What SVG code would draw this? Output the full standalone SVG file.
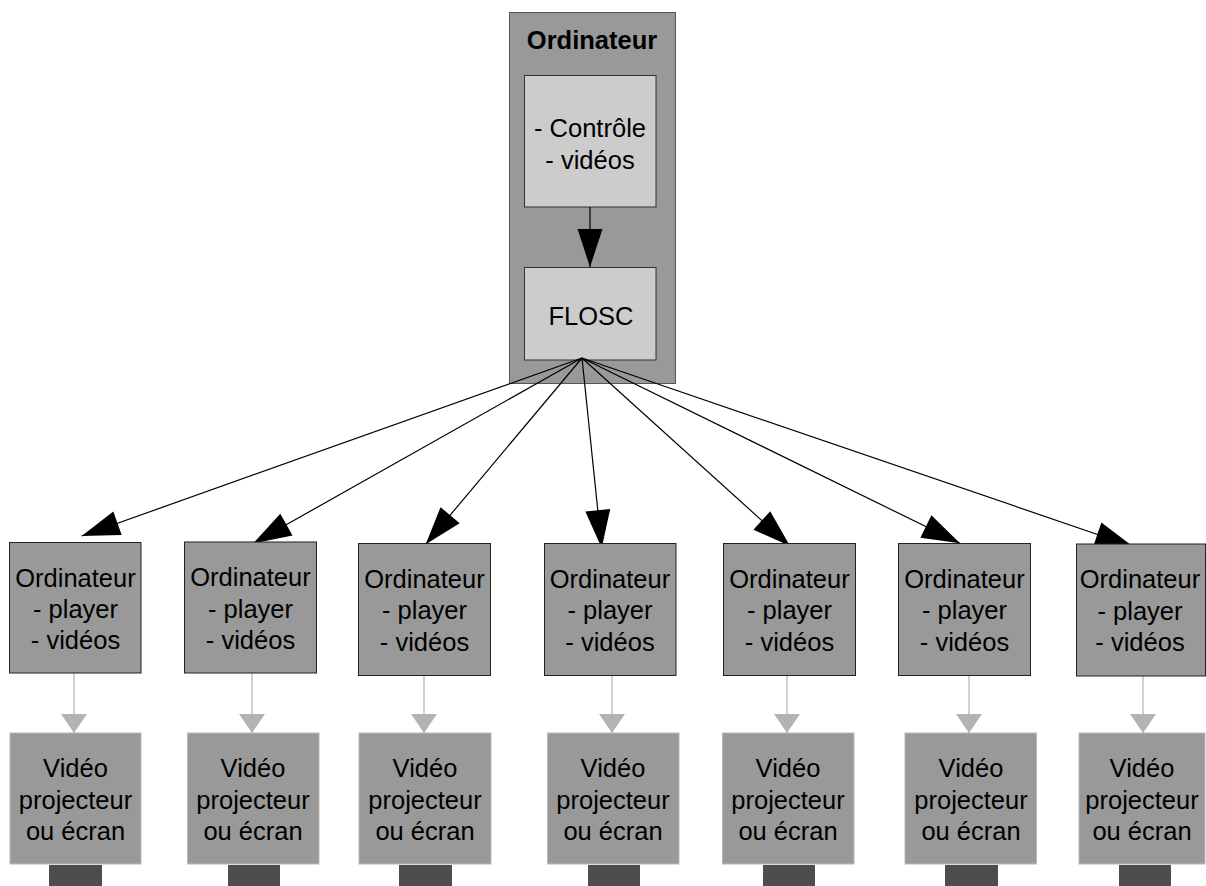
<svg xmlns="http://www.w3.org/2000/svg" width="1206" height="886" viewBox="0 0 1206 886">
<defs>
<style>
text{font-family:"Liberation Sans",Arial,sans-serif;font-size:25.5px;fill:#000;text-anchor:middle}
.b{font-weight:bold}
.outer{fill:#999999;stroke:#555555;stroke-width:1}
.inner{fill:#cccccc;stroke:#333333;stroke-width:1}
.pc{fill:#999999;stroke:#222222;stroke-width:1}
.vp{fill:#999999;stroke:#b8b8b8;stroke-width:1}
.bar{fill:#4d4d4d}
.fan{stroke:#000;stroke-width:1.2;fill:none;marker-end:url(#ah)}
.g{stroke:#c0c0c0;stroke-width:1.5;fill:none;marker-end:url(#gh)}
</style>
<marker id="ah" markerUnits="userSpaceOnUse" markerWidth="40" markerHeight="26" refX="38" refY="12.5" orient="auto" overflow="visible">
<path d="M0,0 L38,12.5 L0,25 z" fill="#000"/>
</marker>
<marker id="gh" markerUnits="userSpaceOnUse" markerWidth="20" markerHeight="26" refX="19" refY="13" orient="auto" overflow="visible">
<path d="M0,0 L19,13 L0,26 z" fill="#b3b3b3"/>
</marker>
</defs>
<rect width="1206" height="886" fill="#ffffff"/>

<g id="ordinateur-principal">
<rect class="outer" x="509.5" y="12.5" width="166" height="371"/>
<text class="b" x="592" y="48.5">Ordinateur</text>
</g>
<g id="controle">
<rect class="inner" x="524.5" y="75.5" width="131.5" height="131.5"/>
<text x="590" y="137">- Contrôle</text>
<text x="590" y="168.5">- vidéos</text>
</g>
<g id="flosc">
<rect class="inner" x="524.5" y="267.5" width="131.5" height="92.5"/>
<text x="591" y="325">FLOSC</text>
</g>

<g id="connectors">
<path class="fan" d="M590,207 L590,267"/>
<path class="fan" d="M582,358 L81.7,536"/>
<path class="fan" d="M582,358 L253.3,543.3"/>
<path class="fan" d="M582,358 L425.7,544.3"/>
<path class="fan" d="M582,358 L601.7,548"/>
<path class="fan" d="M582,358 L790,546"/>
<path class="fan" d="M582,358 L960,543.3"/>
<path class="fan" d="M582,358 L1133.3,546.7"/>
<path class="g" d="M74,673 L74,733"/>
<path class="g" d="M252,673 L252,733"/>
<path class="g" d="M424,676 L424,733"/>
<path class="g" d="M612,676 L612,733"/>
<path class="g" d="M787,676 L787,733"/>
<path class="g" d="M969,676 L969,733"/>
<path class="g" d="M1143,676 L1143,733"/>
</g>

<g id="player1">
<rect class="pc" x="9.5" y="542.5" width="131.5" height="130.5"/>
<text x="75.5" y="586.5">Ordinateur</text><text x="75.5" y="618">- player</text><text x="75.5" y="649">- vidéos</text>
</g>
<g id="player2">
<rect class="pc" x="184.5" y="542" width="132" height="131"/>
<text x="250.5" y="586">Ordinateur</text><text x="250.5" y="617.5">- player</text><text x="250.5" y="649">- vidéos</text>
</g>
<g id="player3">
<rect class="pc" x="358.5" y="543.5" width="132" height="132"/>
<text x="424.5" y="587.5">Ordinateur</text><text x="424.5" y="619">- player</text><text x="424.5" y="650.5">- vidéos</text>
</g>
<g id="player4">
<rect class="pc" x="544.5" y="543.5" width="131.5" height="132"/>
<text x="610" y="587.5">Ordinateur</text><text x="610" y="619">- player</text><text x="610" y="650.5">- vidéos</text>
</g>
<g id="player5">
<rect class="pc" x="723.5" y="543.5" width="132" height="132"/>
<text x="789.5" y="587.5">Ordinateur</text><text x="789.5" y="619">- player</text><text x="789.5" y="650.5">- vidéos</text>
</g>
<g id="player6">
<rect class="pc" x="898.5" y="543.5" width="132" height="132"/>
<text x="964.5" y="587.5">Ordinateur</text><text x="964.5" y="619">- player</text><text x="964.5" y="650.5">- vidéos</text>
</g>
<g id="player7">
<rect class="pc" x="1076.5" y="544" width="129" height="132"/>
<text x="1140" y="588">Ordinateur</text><text x="1140" y="619.5">- player</text><text x="1140" y="651">- vidéos</text>
</g>

<g id="ecran1">
<rect class="vp" x="10" y="733" width="131" height="131"/>
<text x="75.5" y="776.5">Vidéo</text><text x="75.5" y="808.5">projecteur</text><text x="75.5" y="840">ou écran</text>
<rect class="bar" x="49" y="865" width="53" height="21"/>
</g>
<g id="ecran2">
<rect class="vp" x="187.5" y="733" width="131.5" height="131"/>
<text x="253" y="776.5">Vidéo</text><text x="253" y="808.5">projecteur</text><text x="253" y="840">ou écran</text>
<rect class="bar" x="228" y="865" width="52" height="21"/>
</g>
<g id="ecran3">
<rect class="vp" x="359" y="733" width="132" height="131"/>
<text x="425" y="776.5">Vidéo</text><text x="425" y="808.5">projecteur</text><text x="425" y="840">ou écran</text>
<rect class="bar" x="399" y="865" width="53" height="21"/>
</g>
<g id="ecran4">
<rect class="vp" x="547.5" y="733" width="131.5" height="131"/>
<text x="613" y="776.5">Vidéo</text><text x="613" y="808.5">projecteur</text><text x="613" y="840">ou écran</text>
<rect class="bar" x="588" y="865" width="52" height="21"/>
</g>
<g id="ecran5">
<rect class="vp" x="722.5" y="733" width="131.5" height="131"/>
<text x="788" y="776.5">Vidéo</text><text x="788" y="808.5">projecteur</text><text x="788" y="840">ou écran</text>
<rect class="bar" x="763" y="865" width="52" height="21"/>
</g>
<g id="ecran6">
<rect class="vp" x="905" y="733" width="131.5" height="131"/>
<text x="971" y="776.5">Vidéo</text><text x="971" y="808.5">projecteur</text><text x="971" y="840">ou écran</text>
<rect class="bar" x="945" y="865" width="53" height="21"/>
</g>
<g id="ecran7">
<rect class="vp" x="1079" y="733" width="126" height="131"/>
<text x="1142" y="776.5">Vidéo</text><text x="1142" y="808.5">projecteur</text><text x="1142" y="840">ou écran</text>
<rect class="bar" x="1119" y="865" width="52" height="21"/>
</g>
</svg>
